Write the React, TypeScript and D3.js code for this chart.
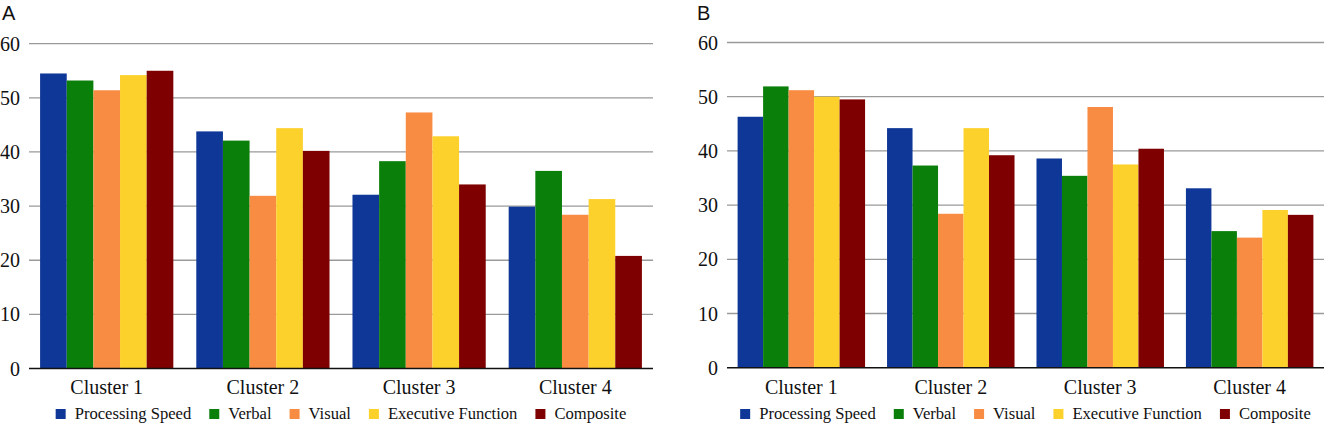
import { useEffect, useRef } from "react";
import * as d3 from "d3";

const clusters = ["Cluster 1", "Cluster 2", "Cluster 3", "Cluster 4"];
const seriesNames = ["Processing Speed", "Verbal", "Visual", "Executive Function", "Composite"];
const seriesColors = ["#0f3797", "#0a7f0a", "#f98c43", "#fdd12b", "#7f0000"];
const yTicks = [0, 10, 20, 30, 40, 50, 60];

// panel A
const speedA = [54.5, 43.8, 32.1, 29.9];
const verbalA = [53.2, 42.1, 38.3, 36.5];
const visualA = [51.4, 31.9, 47.3, 28.4];
const execA = [54.2, 44.4, 42.9, 31.3];
const compositeA = [55.0, 40.2, 34.0, 20.8];

// panel B
const speedB = [46.3, 44.2, 38.6, 33.1];
const verbalB = [51.9, 37.3, 35.4, 25.2];
const visualB = [51.2, 28.4, 48.1, 24.0];
const execB = [50.0, 44.2, 37.5, 29.1];
const compositeB = [49.5, 39.2, 40.4, 28.2];

interface PanelOpts {
  letter: string;
  letterX: number;
  series: number[][];
  x0: number;
  x1: number;
  yTop: number;
  yZero: number;
}

const SERIF = "Liberation Serif, DejaVu Serif, serif";

function drawPanel(g: d3.Selection<SVGGElement, unknown, null, undefined>, o: PanelOpts) {
  const x = d3.scaleBand<string>().domain(clusters).range([o.x0, o.x1]).paddingInner(0.147).paddingOuter(0.071);
  const xs = d3.scaleBand<string>().domain(seriesNames).range([0, x.bandwidth()]);
  const y = d3.scaleLinear().domain([0, 60]).range([o.yZero, o.yTop]);

  g.append("text")
    .attr("x", o.letterX)
    .attr("y", 19.5)
    .style("font-family", "Liberation Sans, Arial, sans-serif")
    .attr("font-size", 20)
    .attr("fill", "#111")
    .text(o.letter);

  // gridlines + tick labels
  g.append("g")
    .selectAll("line")
    .data(yTicks.filter((t) => t > 0))
    .join("line")
    .attr("x1", o.x0)
    .attr("x2", o.x1)
    .attr("y1", (d) => y(d))
    .attr("y2", (d) => y(d))
    .attr("stroke", "#9a9a9a")
    .attr("stroke-width", 1.3);

  g.append("g")
    .selectAll("text")
    .data(yTicks)
    .join("text")
    .attr("x", o.x0 - 9)
    .attr("y", (d) => y(d))
    .attr("dy", "0.35em")
    .attr("text-anchor", "end")
    .style("font-family", SERIF)
    .attr("font-size", 20)
    .attr("fill", "#111")
    .text((d) => d);

  // bars
  const groups = g
    .append("g")
    .selectAll("g")
    .data(clusters)
    .join("g")
    .attr("transform", (d) => `translate(${x(d)},0)`);

  groups
    .selectAll("rect")
    .data((_, ci) => seriesNames.map((name, si) => ({ name, si, v: o.series[si][ci] })))
    .join("rect")
    .attr("x", (d) => xs(d.name) ?? 0)
    .attr("width", xs.bandwidth())
    .attr("y", (d) => y(d.v))
    .attr("height", (d) => y(0) - y(d.v))
    .attr("fill", (d) => seriesColors[d.si]);

  // baseline
  g.append("line")
    .attr("x1", o.x0)
    .attr("x2", o.x1)
    .attr("y1", y(0))
    .attr("y2", y(0))
    .attr("stroke", "#111")
    .attr("stroke-width", 1.6);

  g.append("g")
    .selectAll("text")
    .data(clusters)
    .join("text")
    .attr("x", (d) => (x(d) ?? 0) + x.bandwidth() / 2)
    .attr("y", 393.5)
    .attr("text-anchor", "middle")
    .style("font-family", SERIF)
    .attr("font-size", 20)
    .attr("fill", "#111")
    .text((d) => d);

  // legend, flowed and centred under the plot
  const leg = g.append("g");
  const items = leg.selectAll("g").data(seriesNames).join("g");
  items
    .append("rect")
    .attr("y", 409)
    .attr("width", 10)
    .attr("height", 10)
    .attr("fill", (_, i) => seriesColors[i]);
  const labels = items
    .append("text")
    .attr("x", 19)
    .attr("y", 419)
    .style("font-family", SERIF)
    .attr("font-size", 16.6)
    .attr("fill", "#111")
    .text((d) => d);

  const offsets: number[] = [];
  let cursor = 0;
  labels.each(function (_, i) {
    const w = (this as SVGTextElement).getComputedTextLength();
    offsets.push(cursor);
    cursor += 19 + w + (i < seriesNames.length - 1 ? 18 : 0);
  });
  const start = (o.x0 + o.x1) / 2 - cursor / 2;
  items.attr("transform", (_, i) => `translate(${start + offsets[i]},0)`);
}

export default function App() {
  const ref = useRef<SVGSVGElement | null>(null);

  useEffect(() => {
    if (!ref.current) return;
    const svg = d3.select(ref.current);
    svg.selectAll("*").remove();

    drawPanel(svg.append("g"), {
      letter: "A",
      letterX: 2,
      series: [speedA, verbalA, visualA, execA, compositeA],
      x0: 29,
      x1: 653,
      yTop: 43.7,
      yZero: 368.5,
    });
    drawPanel(svg.append("g"), {
      letter: "B",
      letterX: 697,
      series: [speedB, verbalB, visualB, execB, compositeB],
      x0: 727,
      x1: 1324,
      yTop: 42.5,
      yZero: 367.7,
    });
  }, []);

  return (
    <svg
      ref={ref}
      width={1328}
      height={423}
      style={{ position: "absolute", left: 0, top: 0, background: "#fff" }}
    />
  );
}
